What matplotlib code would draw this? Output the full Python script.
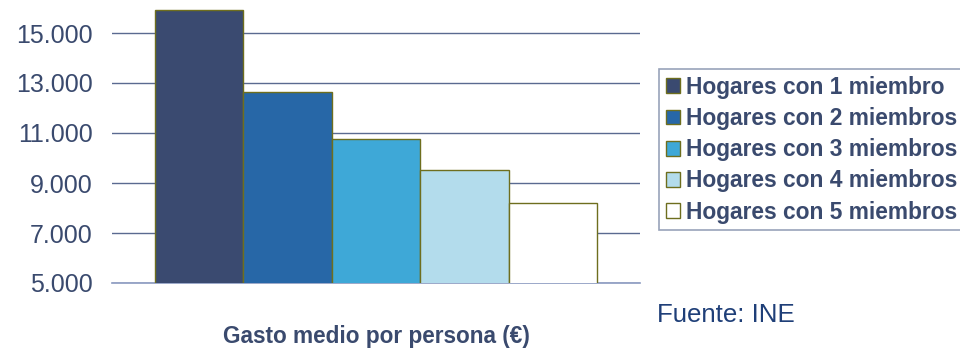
import matplotlib.pyplot as plt
import numpy as np

plt.rcParams["font.family"] = ["Liberation Sans", "DejaVu Sans"]

# data
categories = ["Hogares con 1 miembro", "Hogares con 2 miembros",
              "Hogares con 3 miembros", "Hogares con 4 miembros",
              "Hogares con 5 miembros"]
gasto = [15920, 12640, 10760, 9520, 8200]
yticks = [5000, 7000, 9000, 11000, 13000, 15000]
ytick_labels = ["5.000", "7.000", "9.000", "11.000", "13.000", "15.000"]

colors = ["#3A4A70", "#2767A7", "#3EA8D7", "#B3DCEC", "#FFFFFF"]
text_color = "#3A4A6E"
edge_color = "#6E6E1E"

fig = plt.figure(figsize=(9.6, 3.49), dpi=100)
ax = fig.add_axes([112 / 960, 1 - 283 / 349, 528 / 960, 283 / 349])

x = np.arange(len(gasto))
ax.bar(x, gasto, width=1.0, color=colors, edgecolor=edge_color,
       linewidth=1.0, zorder=3)
# bars span 155..597 px in a 112..640 axis
ax.set_xlim(-0.5 - 43 / 88.5, 4.5 + 43 / 88.5)
ax.set_ylim(5000, 5000 + 283 / 25 * 1000)

ax.set_yticks(yticks)
ax.set_yticklabels(ytick_labels)
ax.set_xticks([])
ax.tick_params(axis="y", length=0, pad=14, labelsize=18, labelcolor=text_color)
ax.grid(axis="y", color="#5A6A90", linewidth=1.0, zorder=0)
for s in ["top", "right", "left"]:
    ax.spines[s].set_visible(False)
ax.spines["bottom"].set_color("#8A9AC0")
ax.spines["bottom"].set_linewidth(1.2)

ax.set_xlabel("Gasto medio por persona (€)", fontsize=16.3, fontweight="bold",
              color=text_color, labelpad=30)

handles = [plt.Rectangle((0, 0), 1, 1, facecolor=c, edgecolor=edge_color,
                         linewidth=1.0) for c in colors]
leg = fig.legend(handles, categories, loc="upper left",
                 bbox_to_anchor=(659 / 960, 1 - 69 / 349),
                 frameon=True, fancybox=False, borderpad=0.3,
                 handlelength=0.62, handleheight=0.62, handletextpad=0.28,
                 labelspacing=0.36, borderaxespad=0,
                 prop={"size": 16.4, "weight": "bold"})
leg.get_frame().set_edgecolor("#7F8CA8")
leg.get_frame().set_linewidth(1.2)
for t in leg.get_texts():
    t.set_color(text_color)

fig.text(657 / 960, 1 - 315 / 349, "Fuente: INE", fontsize=18.6,
         color="#1F3F78", va="center", ha="left")

fig.savefig("out.png", dpi=100)
